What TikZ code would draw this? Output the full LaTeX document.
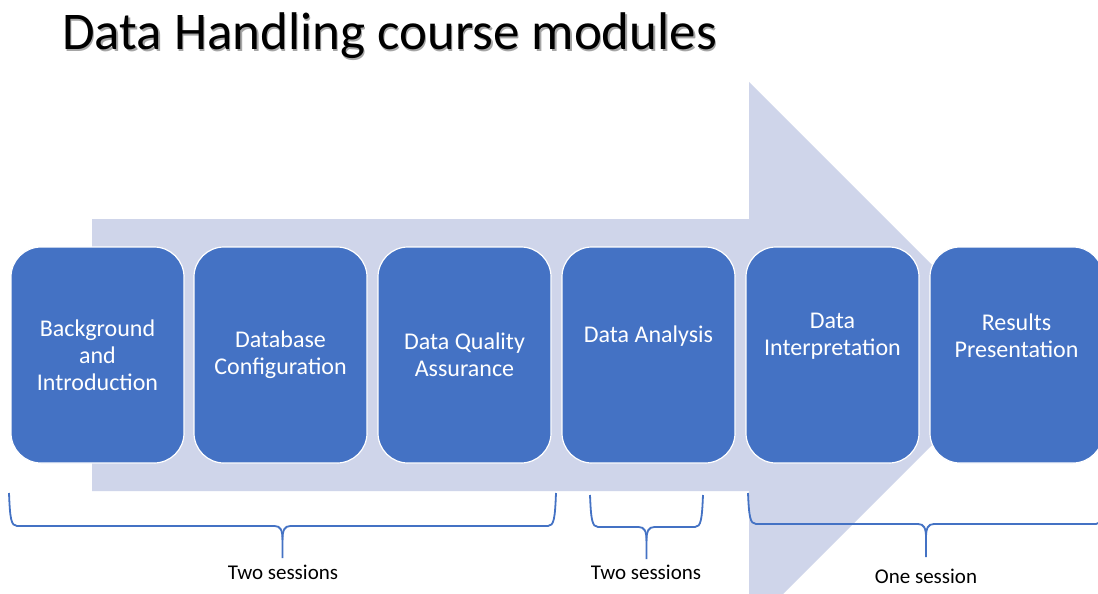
\documentclass[tikz,border=0pt]{standalone}
\usepackage{fontspec}
\setmainfont{Carlito}
\definecolor{boxblue}{HTML}{4472C4}
\definecolor{arrowfill}{HTML}{CFD5EA}
\tikzset{
  modbox/.style={draw=white, line width=1.2pt, fill=boxblue, rounded corners=30pt,
    minimum width=173pt, minimum height=216pt, inner sep=0pt},
  modtext/.style={text=white, align=center, font=\fontsize{24}{27}\selectfont, inner sep=0pt},
  bracepath/.style={draw=boxblue, line width=1.8pt},
  bracelabel/.style={font=\fontsize{21}{24}\selectfont, inner sep=0pt}
}
\newcommand{\mybrace}[5]{% x1 x2 top mid tip
  \pgfmathsetmacro{\xc}{(#1+#2)/2}
  \draw[bracepath] (#1,#3) .. controls (#1+1,#4-8) and (#1+2,#4) .. (#1+8,#4)
    -- (\xc-8,#4) .. controls (\xc-2,#4) and (\xc,#4+4) .. (\xc,#4+14) -- (\xc,#5);
  \draw[bracepath] (\xc,#4+14) .. controls (\xc,#4+4) and (\xc+2,#4) .. (\xc+8,#4)
    -- (#2-8,#4) .. controls (#2-2,#4) and (#2-1,#4-8) .. (#2,#3);
}
\begin{document}
\begin{tikzpicture}[x=1pt,y=-1pt]
\useasboundingbox (0,0) rectangle (1098,594);
\clip (0,0) rectangle (1098,594);
\fill[white] (0,0) rectangle (1098,594);
% title
\node[anchor=base west, font=\fontsize{53}{60}\selectfont, text=black!35, inner sep=0pt] (titleshadow) at (63.5,51.5) {Data Handling course modules};
\node[anchor=base west, font=\fontsize{53}{60}\selectfont, inner sep=0pt] (title) at (62,50) {Data Handling course modules};
% big arrow
\fill[arrowfill] (92,219) -- (749,219) -- (749,82) -- (1022,355) -- (749,628) -- (749,491) -- (92,491) -- cycle;
% boxes
\node[modbox] (b1) at (97.5,355) {};
\node[modbox] (b2) at (280.5,355) {};
\node[modbox] (b3) at (464.5,355) {};
\node[modbox] (b4) at (648.5,355) {};
\node[modbox] (b5) at (832.5,355) {};
\node[modbox] (b6) at (1016.5,355) {};
\node[modtext] (t1) at (97.5,355) {Background\\and\\Introduction};
\node[modtext] (t2) at (280.5,355) {Database\\Configuration};
\node[modtext] (t3) at (464.5,355) {Data Quality\\Assurance};
\node[modtext] (t4) at (648.5,336) {Data Analysis};
\node[modtext] (t5) at (832.5,336) {Data\\Interpretation};
\node[modtext] (t6) at (1016.5,336) {Results\\Presentation};
% braces
\mybrace{9}{556}{493}{526}{558}
\mybrace{590}{703}{495}{527}{559}
\mybrace{748}{1104}{493}{524}{557}
\node[bracelabel] (l1) at (283,572) {Two sessions};
\node[bracelabel] (l2) at (646,572) {Two sessions};
\node[bracelabel] (l3) at (926,576) {One session};
\end{tikzpicture}
\end{document}
